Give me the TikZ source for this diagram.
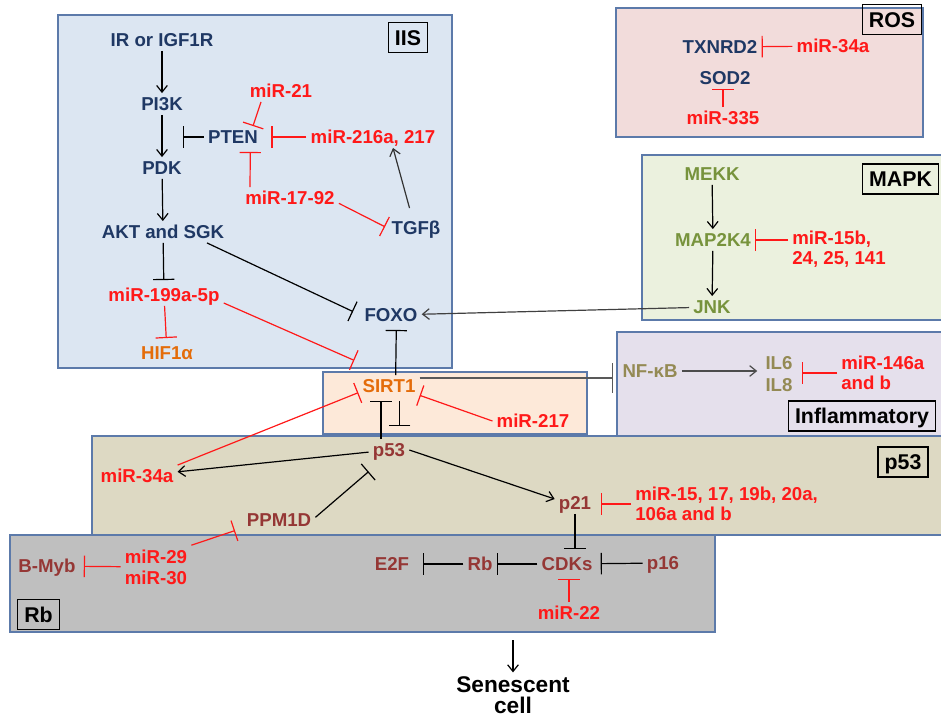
\documentclass[tikz,border=0pt]{standalone}
\usepackage{fontspec}
\setmainfont{Liberation Sans}
\usetikzlibrary{arrows.meta,calc}

\definecolor{navy}{RGB}{31,56,100}
\definecolor{mirred}{RGB}{255,25,25}
\definecolor{orng}{RGB}{228,108,10}
\definecolor{grn}{RGB}{119,147,60}
\definecolor{brn}{RGB}{149,55,53}
\definecolor{khaki}{RGB}{148,138,84}
\definecolor{areaedge}{RGB}{92,122,170}
\definecolor{iisfill}{RGB}{220,230,242}
\definecolor{rosfill}{RGB}{242,220,219}
\definecolor{mapkfill}{RGB}{235,241,222}
\definecolor{sirtfill}{RGB}{253,233,217}
\definecolor{inflfill}{RGB}{229,224,236}
\definecolor{pfiftyfill}{RGB}{221,217,195}
\definecolor{rbfill}{RGB}{191,191,191}

\begin{document}
\begin{tikzpicture}[x=0.75pt,y=-0.75pt,
        every node/.style={font=\bfseries\fontsize{14}{15}\selectfont,inner sep=3pt},
        gene/.style={text height=10pt,text depth=0pt},
        multi/.style={align=left},
        act/.style={-{Straight Barb[length=5pt,width=8pt]},line width=0.9pt},
        inh/.style={-{Bar[width=16pt]},line width=0.9pt},
        tag/.style={draw=black,line width=1pt,font=\bfseries\fontsize{16}{18}\selectfont,
            text height=11.5pt,text depth=0pt,inner xsep=5pt,inner ysep=5.5pt},
        area/.style={draw=areaedge,line width=0.8pt}]
    \useasboundingbox (0,0) rectangle (941,718);
    \clip (0,0) rectangle (941,718);

    % pathway areas, back to front
    \foreach \xa/\ya/\xb/\yb/\c in {58/15/452/368/iisfill, 616/8/923/137/rosfill,
        642/155/945/320/mapkfill, 323/372/587/434/sirtfill, 617/332/945/436/inflfill,
        92/436/945/535/pfiftyfill, 10/535/715/632/rbfill}
    {
        \draw[area,fill=\c] (\xa,\ya) rectangle (\xb,\yb);
    }

    % area tags
    \node[tag] (tagiis) at (408,37.5) {IIS};
    \node[tag] (tagros) at (892,19.5) {ROS};
    \node[tag] (tagmapk) at (900.5,179) {MAPK};
    \node[tag] (taginfl) at (862,416) {Inflammatory};
    \node[tag] (tagp) at (903,462) {p53};
    \node[tag] (tagrb) at (38.5,614.5) {Rb};

    % IIS
    \node[gene,navy] (ir) at (162,40) {IR or IGF1R};
    \node[gene,navy] (pik) at (162,104) {PI3K};
    \node[gene,navy] (pdk) at (162,168) {PDK};
    \node[gene,navy] (akt) at (163,232) {AKT and SGK};
    \node[gene,navy] (pten) at (233,137) {PTEN};
    \node[gene,mirred] (mira) at (281,91) {miR-21};
    \node[gene,mirred] (mirb) at (373,137) {miR-216a, 217};
    \node[gene,mirred] (mirc) at (290,198) {miR-17-92};
    \node[gene,navy] (tgfb) at (416,228) {TGFβ};
    \node[gene,mirred] (mird) at (164,295) {miR-199a-5p};
    \node[gene,orng] (hif) at (167,353) {HIF1α};
    \node[gene,navy] (foxo) at (391,315) {FOXO};
    \coordinate (ptenhit) at (183,137);

    \draw[act] (ir) -- (pik);
    \draw[act] (pik) -- (pdk);
    \draw[act] (pdk) -- (akt);
    \draw[inh] (pten) -- (ptenhit);
    \draw[inh,mirred] ([xshift=-15pt]mira.south) -- ([xshift=15pt]pten.north);
    \draw[inh,mirred,shorten >=7pt] (mirb) -- (pten);
    \draw[inh,mirred,shorten >=3pt] ([xshift=-30pt]mirc.north) -- ([xshift=13pt]pten.south);
    \draw[inh,mirred,shorten >=2pt] ([yshift=-4pt]mirc.east) -- (tgfb.west);
    \draw[act,black!80,shorten <=7pt] ([xshift=-3pt]tgfb.north) -- ([xshift=15pt]mirb.south);
    \draw[inh,shorten >=3pt] (akt) -- (mird);
    \draw[inh,shorten >=6pt] ([xshift=33pt]akt.south) -- (foxo.west);
    \draw[inh,mirred,shorten >=3pt] (mird) -- (hif);

    % ROS
    \node[gene,navy] (txn) at (720,47) {TXNRD2};
    \node[gene,mirred] (mire) at (833,46) {miR-34a};
    \node[gene,navy] (sod) at (725,78) {SOD2};
    \node[gene,mirred] (mirf) at (723,118) {miR-335};

    \draw[inh,mirred] (mire) -- (txn);
    \draw[inh,mirred] (mirf.north) -- (mirf.north |- sod.south);

    % MAPK
    \node[gene,grn] (mekk) at (712,174) {MEKK};
    \node[gene,grn] (mapk) at (713,240) {MAP2K4};
    \node[gene,grn] (jnk) at (712,307) {JNK};
    \node[multi,mirred,anchor=west] (mirg) at (788,249) {miR-15b,\\24, 25, 141};

    \draw[act] (mekk) -- (mapk);
    \draw[act] (mapk) -- (jnk);
    \draw[inh,mirred] (mirg.west |- mapk) -- (mapk.east);
    \draw[act,black!75] (jnk) -- (foxo);

    % SIRT1
    \node[gene,orng] (sirt) at (389,386) {SIRT1};
    \node[gene,mirred] (mirh) at (533,421) {miR-217};

    \draw[inh,shorten >=3pt] ([xshift=5pt]sirt.north) -- ([xshift=4pt]foxo.south);
    \draw[inh,mirred] (mirh.west) -- ([yshift=-7pt]sirt.east);
    \draw[inh,mirred] ([yshift=-6pt]mird.east) -- ([xshift=-3pt,yshift=11pt]sirt.north west);

    % Inflammatory
    \node[gene,khaki] (nfkb) at (650,371) {NF-κB};
    \node[multi,align=center,khaki] (il) at (779,374) {IL6\\[2pt]IL8};
    \node[multi,mirred,anchor=west] (mirk) at (837,373) {miR-146a\\and b};

    \draw[inh,black!65,-{Bar[width=22pt]}] ([yshift=6pt]sirt.east) -- ($(nfkb.west)+(-5,7)$);
    \draw[act,black!70,shorten >=3pt] (nfkb) -- (nfkb -| il.west);
    \draw[inh,mirred,shorten >=4pt] (mirk.west) -- (mirk.west -| il.east);

    % p53
    \node[gene,brn] (p53) at (389,450) {p53};
    \node[gene,mirred] (mirl) at (137,476) {miR-34a};
    \node[gene,brn] (ppm) at (279,520) {PPM1D};
    \node[gene,brn] (p21) at (575,503) {p21};
    \node[multi,mirred,anchor=west] (mirm) at (631,504) {miR-15, 17, 19b, 20a,\\106a and b};

    \draw[inh,mirred] (mirl.north east) -- ([yshift=-5pt]sirt.west);
    \draw[inh,shorten >=3pt] ([xshift=-6pt]p53.north) -- ([xshift=-6pt]sirt.south);
    \draw[inh,shorten <=3pt,shorten >=10pt] ([xshift=8pt]sirt.south) -- ([xshift=8pt]p53.north);
    \draw[act] (p53) -- (mirl);
    \draw[act] (p53.east) -- ([yshift=3pt]p21.west);
    \draw[inh] ([yshift=2pt]ppm.east) -- ([yshift=-8pt]p53.south west);
    \draw[inh,mirred,shorten >=4pt] (mirm.west) -- (mirm.west -| p21.east);

    % Rb
    \node[gene,brn] (cdk) at (567,564) {CDKs};
    \node[gene,brn] (rb) at (480,564) {Rb};
    \node[gene,brn] (e2f) at (392,564) {E2F};
    \node[gene,brn] (p16) at (663,563) {p16};
    \node[gene,mirred] (mirn) at (569,613) {miR-22};
    \node[gene,brn] (bmyb) at (47,566) {B-Myb};
    \node[multi,align=center,mirred] (miro) at (156,567) {miR-29\\[1pt]miR-30};

    \draw[inh,mirred,shorten >=6pt] (miro.north east) -- ([yshift=-6pt]ppm.west);
    \draw[inh,mirred,shorten >=3pt] (miro) -- (bmyb);
    \draw[inh,shorten >=3pt] (p21.south) -- (p21.south |- cdk.north);
    \draw[inh] (cdk) -- (rb);
    \draw[inh,shorten >=7pt] (rb) -- (e2f);
    \draw[inh,shorten >=3pt] (p16) -- (cdk);
    \draw[inh,mirred,shorten >=3pt] (mirn.north) -- (mirn.north |- cdk.south);

    % outcome
    \node[align=center,inner sep=0pt,font=\bfseries\fontsize{17}{15.5}\selectfont] (sen) at (513,695) {Senescent\\cell};
    \coordinate (rbout) at (513,640);
    \draw[act,shorten >=3pt] (rbout) -- (sen);
\end{tikzpicture}
\end{document}
